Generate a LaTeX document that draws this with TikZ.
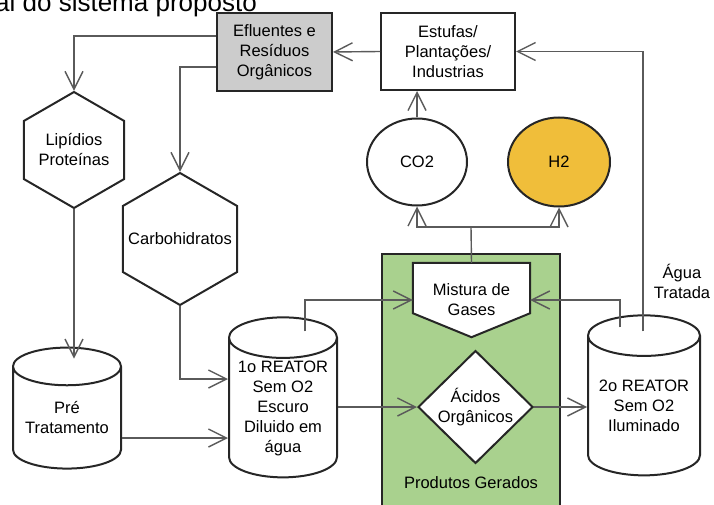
\documentclass[tikz,border=0pt]{standalone}
\usepackage{fontspec}
\setmainfont{Liberation Sans}
\usepackage{tikz}
\usetikzlibrary{arrows.meta,calc,shapes.geometric,shapes.symbols}

\definecolor{grayfill}{HTML}{CCCCCC}
\definecolor{prodgreen}{HTML}{A9D18E}
\definecolor{hgold}{HTML}{F0BE3A}
\definecolor{linegray}{HTML}{5A5A5A}

\begin{document}
\begin{tikzpicture}[x=1pt,y=-1pt,
    every node/.style={font=\fontsize{16.5}{20}\selectfont,align=center,inner sep=0pt},
    edge/.style={line width=2pt,draw=black!85},
    arr/.style={line width=1.4pt,linegray,-{Straight Barb[length=18pt,width=18pt,line width=1.4pt]}},
    ln/.style={line width=1.4pt,linegray},
    box/.style={edge,rectangle},
    hexa/.style={edge,regular polygon,regular polygon sides=6,shape border rotate=30},
    tank/.style={edge,cylinder,shape border rotate=90,aspect=0.45,fill=white},
    blob/.style={edge,ellipse}]
    \useasboundingbox (0,0) rectangle (714,505);
    % title (cut)
        \node[anchor=base west,font=\fontsize{26}{30}\selectfont] (title) at (-5,12) {al do sistema proposto};
    % top boxes
        \node[box,fill=grayfill,minimum width=115,minimum height=78] (eflu) at (274.5,52) {Efluentes e\\Resíduos\\Orgânicos};
        \node[box,fill=white,minimum width=134,minimum height=77] (estu) at (448,51.5) {Estufas/\\Plantações/\\Industrias};
    % hexagons
        \node[hexa,minimum size=116] (lip) at (74,150) {\makebox[0pt]{Lipídios}\\\makebox[0pt]{Proteínas}};
        \node[hexa,minimum size=132] (carb) at (180,239) {\makebox[0pt]{Carbohidratos}};
    % products
        \node[edge,fill=prodgreen,minimum width=178,minimum height=270,anchor=north] (prod) at (471,253) {};
        \node (prodlbl) at (471,483) {Produtos Gerados};
        \node[minimum width=117,minimum height=74] (mist) at (471.5,300) {};
        \draw[edge,fill=white] (mist.north west) -- (mist.north east) -- ($(mist.south east)+(0,-24)$) -- (mist.south) -- ($(mist.south west)+(0,-24)$) -- cycle;
        \node (misttxt) at (mist) {Mistura de\\Gases};
        \node[edge,diamond,fill=white,minimum width=115,minimum height=111] (acid) at (475.5,407) {Ácidos\\Orgânicos};
    % gases
        \node[blob,fill=white,minimum width=100,minimum height=87] (co2) at (417,162) {CO2};
        \node[blob,fill=hgold,minimum width=102,minimum height=89] (h2) at (559,162) {H2};
    % reactors
        \node[tank,minimum width=108,minimum height=121] (pre) at (67,418) {Pré\\Tratamento};
        \node[tank,minimum width=108,minimum height=160] (reat1) at (283,408) {1o REATOR\\Sem O2\\Escuro\\Diluido em\\água};
        \node[tank,minimum width=112,minimum height=160] (reat2) at (644,406) {2o REATOR\\Sem O2\\Iluminado};
        \node (agua) at (682,281) {Água\\Tratada};
    % connectors
        \coordinate (e1) at ($(eflu.north west)+(0,24)$);
        \coordinate (e2) at ($(eflu.north west)+(0,55)$);
        \coordinate (pretop) at ($(pre.top)+(0,12)$);
        \coordinate (p1) at (pre.east |- 0,438);
        \coordinate (c1) at (reat1.west |- 0,379);
        \coordinate (r1) at ($(reat1.top)+(22,15)$);
        \coordinate (r2a) at ($(reat2.top)+(-24,13)$);
        \coordinate (r2b) at ($(reat2.top)+(-1,17)$);
        \coordinate (gasj) at (471,227);
        \draw[arr] (estu.west) -- (eflu.east);
        \draw[arr] (r2b) |- (estu.east);
        \draw[arr] (e1) -| (lip.north);
        \draw[arr] (e2) -| (carb.north);
        \draw[arr] (lip.south) -- (lip.south |- pretop);
        \draw[arr] (carb.south) |- (c1);
        \draw[arr] (p1) -- (p1 -| reat1.west);
        \draw[arr] (r1) |- (mist.west);
        \draw[arr] (r2a) |- (mist.east);
        \draw[arr] (acid.west -| reat1.east) -- (acid.west);
        \draw[arr] (acid.east) -- (acid.east -| reat2.west);
        \draw[ln] (mist.north) -- (gasj);
        \draw[arr] (gasj) -| (co2.south);
        \draw[arr] (gasj) -| (h2.south);
        \draw[arr] (co2.north) -- (co2.north |- estu.south);
\end{tikzpicture}
\end{document}
